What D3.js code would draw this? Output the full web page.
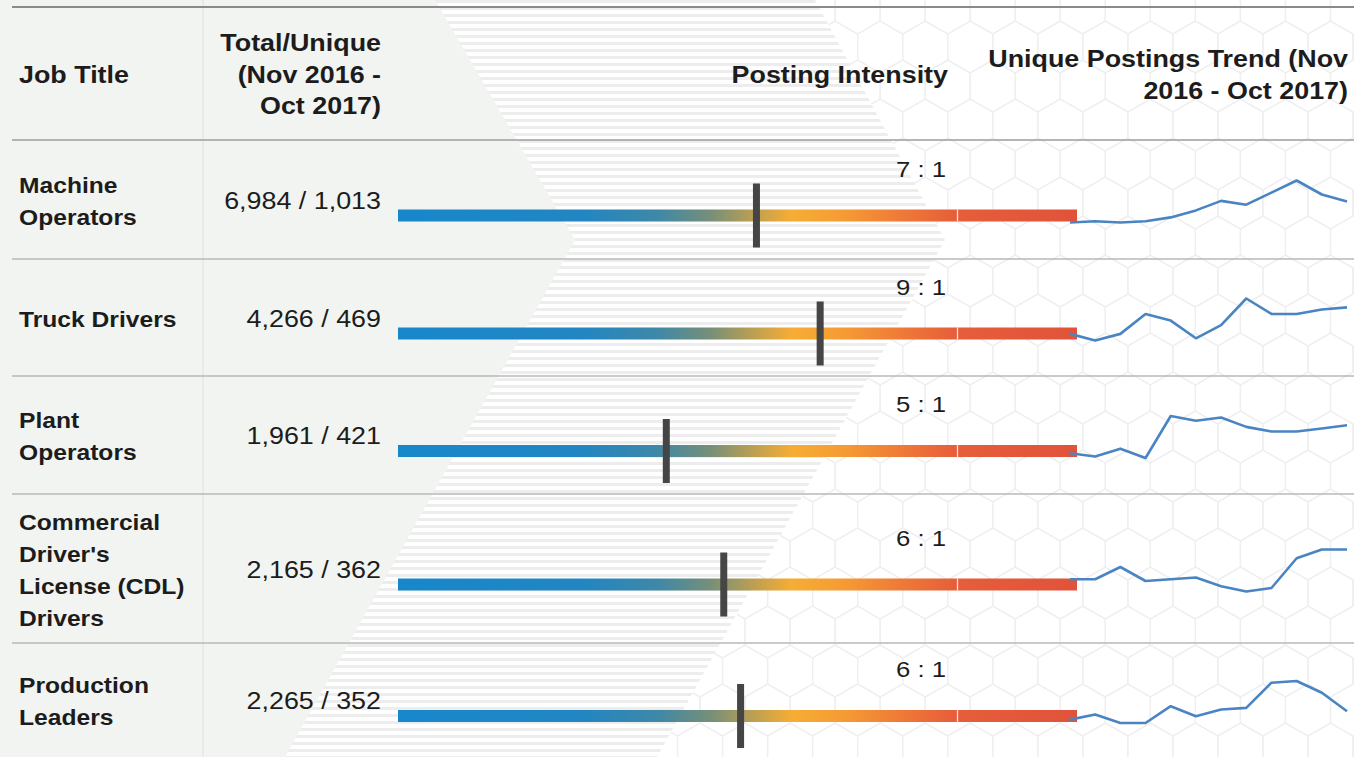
<!DOCTYPE html>
<html><head><meta charset="utf-8">
<script src="https://cdn.jsdelivr.net/npm/d3@7"></script>
<style>html,body{margin:0;padding:0;background:#fff;overflow:hidden}</style>
</head><body><svg id="c" width="1354" height="757"></svg>
<script>
// ---------- DATA ----------
const jobTitles = [["Machine","Operators"],["Truck Drivers"],["Plant","Operators"],["Commercial","Driver's","License (CDL)","Drivers"],["Production","Leaders"]];
const totalPostings = [6984, 4266, 1961, 2165, 2265];
const uniquePostings = [1013, 469, 421, 362, 352];
const intensityLabels = ["7 : 1", "9 : 1", "5 : 1", "6 : 1", "6 : 1"];
const months = ["Nov 2016","Dec 2016","Jan 2017","Feb 2017","Mar 2017","Apr 2017","May 2017","Jun 2017","Jul 2017","Aug 2017","Sep 2017","Oct 2017"];
const trendMachineOperators = [61, 63, 61, 63, 69, 80, 95, 89, 108, 127, 105, 94];
const trendTruckDrivers     = [33, 30, 33, 42, 39, 31, 37, 49, 42, 42, 44, 45];
const trendPlantOperators   = [23, 21, 26, 20, 47, 44, 46, 40, 37, 37, 39, 41];
const trendCDLDrivers       = [27, 27, 34, 26, 27, 28, 23, 20, 22, 39, 44, 44];
const trendProductionLeaders= [22, 25, 20, 20, 30, 24, 28, 29, 44, 45, 38, 27];
const trends = [trendMachineOperators, trendTruckDrivers, trendPlantOperators, trendCDLDrivers, trendProductionLeaders];
const headerJob = ["Job Title"];
const headerTotals = ["Total/Unique", "(Nov 2016 -", "Oct 2017)"];
const headerIntensity = ["Posting Intensity"];
const headerTrend = ["Unique Postings Trend (Nov", "2016 - Oct 2017)"];

// ---------- LAYOUT ----------
const W = 1354, H = 757;
const rowEdges = [140, 259, 376, 494, 643, 757];
const SX = 1.12;
const FONT = "'Liberation Sans', Arial, Helvetica, sans-serif";
const ink = "#1c1c1c";

const svg = d3.select("#c");
const defs = svg.append("defs");

// background: white + hexagons
svg.append("rect").attr("width", W).attr("height", H).attr("fill", "#fff");
defs.append("clipPath").attr("id", "hexclip").append("polygon")
  .attr("points", "800,0 1354,0 1354,757 640,757 930,240");
const hexG = svg.append("g").attr("clip-path", "url(#hexclip)");
const hr = 26, hw = Math.sqrt(3) * hr;
const hexPath = (cx, cy) => {
  const pts = d3.range(6).map(k => {
    const a = (Math.PI / 180) * (60 * k - 90);
    return [cx + hr * Math.cos(a), cy + hr * Math.sin(a)];
  });
  return "M" + pts.map(p => p.join(",")).join("L") + "Z";
};
for (let j = -1; j < 22; j++) {
  for (let i = 10; i < 33; i++) {
    const cx = i * hw + (j % 2 ? hw / 2 : 0) + 2;
    const cy = j * hr * 1.5 + 8;
    hexG.append("path").attr("d", hexPath(cx, cy))
      .attr("fill", "none").attr("stroke", "#efefef").attr("stroke-width", 1.3);
  }
}

// stripes
const pat = defs.append("pattern").attr("id", "stripes").attr("patternUnits", "userSpaceOnUse")
  .attr("width", 10).attr("height", 7);
pat.append("rect").attr("width", 10).attr("height", 7).attr("fill", "#fff");
pat.append("rect").attr("width", 10).attr("height", 3).attr("fill", "#ededed");
svg.append("polygon").attr("points", "430,0 815,0 945,240 657,757 280,757 575,240")
  .attr("fill", "url(#stripes)");

// left grey chevron
svg.append("polygon").attr("points", "0,0 435,0 575,240 285,757 0,757").attr("fill", "#f2f4f1");
svg.append("line").attr("x1", 203).attr("x2", 203).attr("y1", 0).attr("y2", H)
  .attr("stroke", "#e5e7e4").attr("stroke-width", 1.5);

// horizontal rules
svg.append("line").attr("x1", 12).attr("x2", W).attr("y1", 7).attr("y2", 7)
  .attr("stroke", "#8a8a8a").attr("stroke-width", 2);
rowEdges.slice(0, 5).forEach((y, i) => {
  svg.append("line").attr("x1", 12).attr("x2", W).attr("y1", y).attr("y2", y)
    .attr("stroke", i === 0 ? "#9c9c9c" : "#b8b8b8").attr("stroke-width", 1.5);
});

// text helper
function txt(x, y, s, opts) {
  return svg.append("text")
    .attr("transform", `translate(${x},${y}) scale(${SX},1)`)
    .attr("font-family", FONT)
    .attr("font-size", opts.size)
    .attr("font-weight", opts.bold ? "bold" : "normal")
    .attr("text-anchor", opts.anchor || "start")
    .attr("fill", ink)
    .text(s);
}

// header
headerJob.forEach(s => txt(19, 83, s, {size: 24, bold: true}));
headerTotals.forEach((s, i) => txt(381, 51 + i * 31.5, s, {size: 24, bold: true, anchor: "end"}));
headerIntensity.forEach(s => txt(948, 83, s, {size: 24, bold: true, anchor: "end"}));
headerTrend.forEach((s, i) => txt(1348, 67 + i * 32, s, {size: 24, bold: true, anchor: "end"}));

// gradient for intensity bar
const grad = defs.append("linearGradient").attr("id", "grad")
  .attr("gradientUnits", "userSpaceOnUse").attr("x1", 398).attr("x2", 1077).attr("y1", 0).attr("y2", 0);
[[0, "#1787cb"], [0.27, "#2286c2"], [0.38, "#3d88a8"], [0.46, "#768f78"], [0.53, "#c3a14e"],
 [0.58, "#f6ad35"], [0.66, "#f59a34"], [0.74, "#ef7a37"], [0.82, "#e65e3a"], [1, "#e0533a"]]
  .forEach(([o, c]) => grad.append("stop").attr("offset", o).attr("stop-color", c));

// scales
const intensity = totalPostings.map((t, i) => t / uniquePostings[i]);
const xInt = d3.scaleLog().domain([1.45, 27.8]).range([398, 1077]);
const xTrend = d3.scalePoint().domain(months).range([1070, 1347]);

jobTitles.forEach((lines, i) => {
  const top = rowEdges[i], bot = rowEdges[i + 1];
  const mid = (top + bot) / 2;
  const barY = mid + 16;
  const lh = 32;
  const first = mid + 9 - (lines.length - 1) * lh / 2;
  lines.forEach((s, k) => txt(19, first + k * lh, s, {size: 22, bold: true}));
  txt(381, mid + 9, d3.format(",")(totalPostings[i]) + " / " + d3.format(",")(uniquePostings[i]), {size: 24, anchor: "end"});
  svg.append("rect").attr("x", xInt.range()[0]).attr("width", xInt.range()[1] - xInt.range()[0])
    .attr("y", barY - 6).attr("height", 12).attr("fill", "url(#grad)");
  svg.append("line").attr("x1", 957.5).attr("x2", 957.5).attr("y1", barY - 6).attr("y2", barY + 6)
    .attr("stroke", "#fff").attr("stroke-width", 1.3).attr("opacity", 0.8);
  svg.append("rect").attr("x", xInt(intensity[i]) - 3.5).attr("width", 7)
    .attr("y", barY - 32).attr("height", 64).attr("fill", "#454545");
  txt(921, barY - 39, intensityLabels[i], {size: 23, anchor: "middle"});
  const y = d3.scaleLinear().domain(d3.extent(trends[i])).range([barY + 7, barY - 35]);
  const line = d3.line().x((d, k) => xTrend(months[k])).y(d => y(d));
  svg.append("path").attr("d", line(trends[i])).attr("fill", "none")
    .attr("stroke", "#4a84c2").attr("stroke-width", 2.6).attr("stroke-linejoin", "round");
});
</script></body></html>
